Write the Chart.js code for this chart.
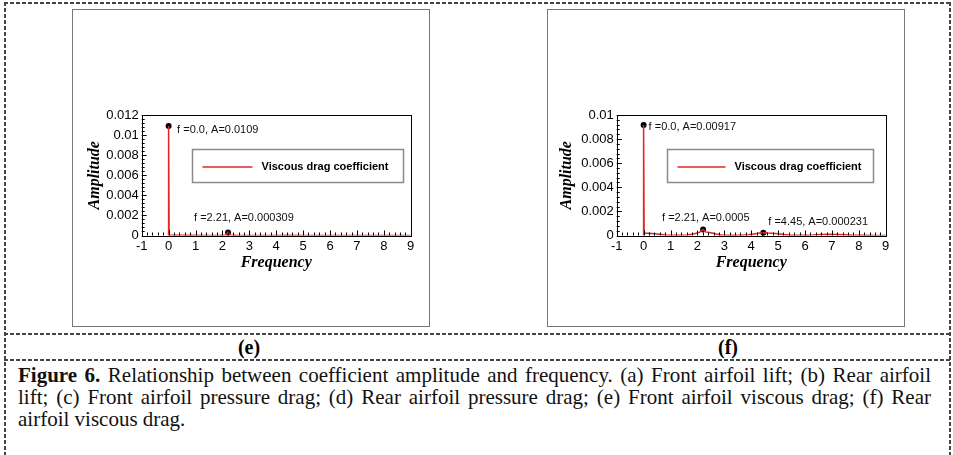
<!DOCTYPE html>
<html>
<head>
<meta charset="utf-8">
<script src="https://cdn.jsdelivr.net/npm/chart.js@4.4.1/dist/chart.umd.min.js"></script>
<style>
  html, body { margin: 0; padding: 0; background: #fff; }
  body { width: 953px; height: 455px; position: relative; overflow: hidden; }
  .dh { position: absolute; height: 2px; background: repeating-linear-gradient(to right, #444 0 4px, transparent 4px 6px); }
  .dv { position: absolute; width: 2px; background: repeating-linear-gradient(to bottom, #444 0 4px, transparent 4px 6px); }
  .frame { position: absolute; top: 9px; width: 358px; height: 318px; border: 1px solid #777; box-sizing: border-box; }
  canvas { position: absolute; top: 9px; }
  .sub { position: absolute; top: 335px; width: 60px; text-align: center; font: bold 20px "Liberation Serif", "Times New Roman", serif; line-height: 24px; }
  .caption { position: absolute; left: 18px; top: 364px; width: 913px; text-align: justify; font: 21px "Liberation Serif", "Times New Roman", serif; line-height: 22px; color: #111; }
</style>
</head>
<body>
<div class="dh" style="left:4px; top:2px; width:947px"></div>
<div class="dv" style="left:4px; top:2px; height:460px"></div>
<div class="dv" style="left:949px; top:2px; height:460px"></div>
<div class="dh" style="left:4px; top:333px; width:947px"></div>
<div class="dh" style="left:4px; top:359px; width:947px"></div>

<div class="frame" style="left:72px"></div>
<div class="frame" style="left:547px"></div>
<canvas id="chartE" width="358" height="318" style="left:72px"></canvas>
<canvas id="chartF" width="358" height="318" style="left:547px"></canvas>

<div class="sub" style="left:219px">(e)</div>
<div class="sub" style="left:698px">(f)</div>

<div class="caption"><b>Figure 6.</b> Relationship between coefficient amplitude and frequency. (a) Front airfoil lift; (b) Rear airfoil lift; (c) Front airfoil pressure drag; (d) Rear airfoil pressure drag; (e) Front airfoil viscous drag; (f) Rear airfoil viscous drag.</div>

<script>
// axis ticks
const X_TICKS = [-1, 0, 1, 2, 3, 4, 5, 6, 7, 8, 9]
const Y_TICKS_E = [0, 0.002, 0.004, 0.006, 0.008, 0.01, 0.012]
const Y_TICKS_F = [0, 0.002, 0.004, 0.006, 0.008, 0.01]

// (e) front airfoil viscous drag spectrum
const freqE = [0, 0, 0.02, 0.3, 0.8, 1.4, 1.9, 2.12, 2.21, 2.3, 2.5, 3.0, 4.0, 4.45, 5.0, 6.0, 7.0, 8.0, 9.0]
const ampE = [0, 0.0109, 0.00004, 0.00003, 0.00002, 0.00001, 0.00002, 0.00006, 0.000309, 0.00006, 0.00002, 0.00001, 0.00001, 0.00002, 0.00001, 0.00001, 0.00001, 0.00001, 0]
const peakFreqE = [0, 2.21]
const peakAmpE = [0.0109, 0.000309]

// (f) rear airfoil viscous drag spectrum
const freqF = [0, 0, 0.02, 0.2, 0.4, 0.6, 0.8, 1.0, 1.3, 1.6, 1.8, 2.0, 2.1, 2.21, 2.3, 2.5, 2.7, 2.9, 3.2, 3.6, 3.9, 4.1, 4.3, 4.45, 4.6, 4.8, 5.0, 5.2, 5.5, 6.0, 6.3, 6.6, 6.9, 7.2, 7.5, 7.8, 8.2, 8.6, 9.0]
const ampF = [0, 0.00917, 0.0002, 0.00018, 0.00015, 0.0001, 0.00005, 0.00003, 0.00002, 0.00004, 0.0001, 0.0002, 0.0003, 0.0005, 0.0003, 0.00022, 0.00012, 0.00005, 0.00002, 0.00002, 0.00006, 0.00013, 0.0002, 0.000231, 0.0002, 0.00018, 0.00014, 0.00008, 0.00003, 0.00002, 0.00004, 0.00008, 0.0001, 0.00009, 0.00006, 0.00003, 0.00002, 0.00001, 0]
const peakFreqF = [0, 2.21, 4.45]
const peakAmpF = [0.00917, 0.0005, 0.000231]

const SERIES_NAME = 'Viscous drag coefficient'
const RED = 'rgb(226, 38, 38)'

Chart.defaults.font.family = '"Liberation Sans", Arial, sans-serif'
Chart.defaults.color = '#000'

const toPoints = (xs, ys) => xs.map((x, i) => ({ x, y: ys[i] }))
const peakText = (f, a) => 'f =' + (f === 0 ? '0.0' : String(f)) + ', A=' + String(a)

// box round the plot area with inward major / minor ticks (left and bottom only)
const frameTicks = {
  id: 'frameTicks',
  afterDatasetsDraw(chart) {
    const { ctx, chartArea: a, scales } = chart
    const xs = scales.x, ys = scales.y
    ctx.save()
    ctx.strokeStyle = '#000'
    ctx.lineWidth = 1
    ctx.beginPath()
    const minor = (scale, step, from, to, fn) => {
      for (let v = from; v <= to + 1e-9; v += step) fn(scale.getPixelForValue(v), Math.abs(v / (step * 5) - Math.round(v / (step * 5))) < 1e-6)
    }
    minor(xs, 0.2, xs.min, xs.max, (px, major) => {
      const x = Math.round(px) + 0.5
      ctx.moveTo(x, a.bottom)
      ctx.lineTo(x, a.bottom - (major ? 5 : 3))
    })
    const yStep = (ys.max - ys.min) / (ys.ticks.length - 1) / 5
    minor(ys, yStep, ys.min, ys.max, (py, major) => {
      const y = Math.round(py) + 0.5
      ctx.moveTo(a.left, y)
      ctx.lineTo(a.left + (major ? 5 : 3), y)
    })
    ctx.stroke()
    ctx.strokeRect(Math.round(a.left) + 0.5, Math.round(a.top) + 0.5, Math.round(a.right - a.left), Math.round(a.bottom - a.top))
    ctx.restore()
  }
}

// "f =.., A=.." text next to each marked peak
const peakLabels = {
  id: 'peakLabels',
  afterDraw(chart, args, opts) {
    const { ctx } = chart
    const meta = chart.getDatasetMeta(1)
    ctx.save()
    ctx.font = '11px "Liberation Sans", Arial, sans-serif'
    ctx.fillStyle = '#111'
    ctx.textAlign = 'left'
    ctx.textBaseline = 'middle'
    meta.data.forEach((pt, i) => {
      const raw = chart.data.datasets[1].data[i]
      const off = opts.offsets[i]
      ctx.fillText(peakText(raw.x, raw.y), pt.x + off[0], pt.y + off[1])
    })
    ctx.restore()
  }
}

// boxed legend inside the plot area
const boxLegend = {
  id: 'boxLegend',
  afterDraw(chart, args, opts) {
    const { ctx, chartArea: a } = chart
    const ds = chart.data.datasets[0]
    const x = Math.round(a.left + opts.x) + 0.5, y = Math.round(a.top + opts.y) + 0.5
    ctx.save()
    ctx.fillStyle = '#fff'
    ctx.fillRect(x, y, opts.w, opts.h)
    ctx.strokeStyle = '#8a8a8a'
    ctx.lineWidth = 1.5
    ctx.strokeRect(x, y, opts.w, opts.h)
    const cy = y + opts.h / 2 + 1
    ctx.strokeStyle = ds.borderColor
    ctx.lineWidth = 1.5
    ctx.beginPath()
    ctx.moveTo(x + 10, cy)
    ctx.lineTo(x + 10 + opts.line, cy)
    ctx.stroke()
    ctx.fillStyle = '#000'
    ctx.font = 'bold 11px "Liberation Sans", Arial, sans-serif'
    ctx.textBaseline = 'middle'
    ctx.fillText(ds.label, x + 19 + opts.line, cy)
    ctx.restore()
  }
}

function makeChart(id, cfg) {
  return new Chart(document.getElementById(id), {
    type: 'scatter',
    data: {
      datasets: [
        {
          label: SERIES_NAME,
          data: toPoints(cfg.freq, cfg.amp),
          showLine: true,
          borderColor: RED,
          borderWidth: 1.5,
          pointRadius: 0,
          tension: 0
        },
        {
          label: 'peaks',
          data: toPoints(cfg.peakFreq, cfg.peakAmp),
          showLine: false,
          pointRadius: 3,
          pointBackgroundColor: '#000',
          pointBorderColor: '#000',
          pointBorderWidth: 0,
          clip: false
        }
      ]
    },
    options: {
      responsive: false,
      maintainAspectRatio: false,
      animation: false,
      events: [],
      layout: { padding: { left: 0, top: 106, right: 19.3, bottom: 0 } },
      plugins: {
        legend: { display: false },
        tooltip: { enabled: false },
        peakLabels: { offsets: cfg.offsets },
        boxLegend: cfg.legend
      },
      scales: {
        x: {
          type: 'linear',
          min: -1,
          max: 9,
          afterBuildTicks: s => { s.ticks = X_TICKS.map(v => ({ value: v })) },
          afterFit: s => { s.height = 91.5 },
          grid: { display: false, drawTicks: false },
          border: { display: false },
          ticks: { padding: 3, font: { size: 13 }, color: '#000' },
          title: {
            display: true,
            text: 'Frequency',
            color: '#000',
            font: { family: '"Liberation Serif", "Times New Roman", serif', size: 16, style: 'italic', weight: 'bold' },
            padding: { top: 0, bottom: 54.4 }
          }
        },
        y: {
          type: 'linear',
          min: 0,
          max: cfg.yTicks[cfg.yTicks.length - 1],
          afterBuildTicks: s => { s.ticks = cfg.yTicks.map(v => ({ value: v })) },
          afterFit: s => { s.width = 69.7 },
          grid: { display: false, drawTicks: false },
          border: { display: false },
          ticks: {
            padding: 3,
            font: { size: 13 },
            color: '#000',
            callback: v => String(parseFloat(v.toFixed(6)))
          },
          title: {
            display: true,
            text: 'Amplitude',
            color: '#000',
            font: { family: '"Liberation Serif", "Times New Roman", serif', size: 16, style: 'italic', weight: 'bold' },
            padding: { top: cfg.yTitlePad, bottom: 0 }
          }
        }
      }
    },
    plugins: [frameTicks, peakLabels, boxLegend]
  })
}

makeChart('chartE', {
  freq: freqE, amp: ampE,
  peakFreq: peakFreqE, peakAmp: peakAmpE,
  yTicks: Y_TICKS_E,
  yTitlePad: 13.4,
  offsets: [[8.5, 4], [-34, -14.4]],
  legend: { x: 50, y: 34, w: 211, h: 33, line: 50 }
})

makeChart('chartF', {
  freq: freqF, amp: ampF,
  peakFreq: peakFreqF, peakAmp: peakAmpF,
  yTicks: Y_TICKS_F,
  yTitlePad: 10.1,
  offsets: [[5, 2], [-41, -11.5], [5, -10.7]],
  legend: { x: 50.3, y: 34, w: 206, h: 33, line: 48 }
})
</script>
</body>
</html>
